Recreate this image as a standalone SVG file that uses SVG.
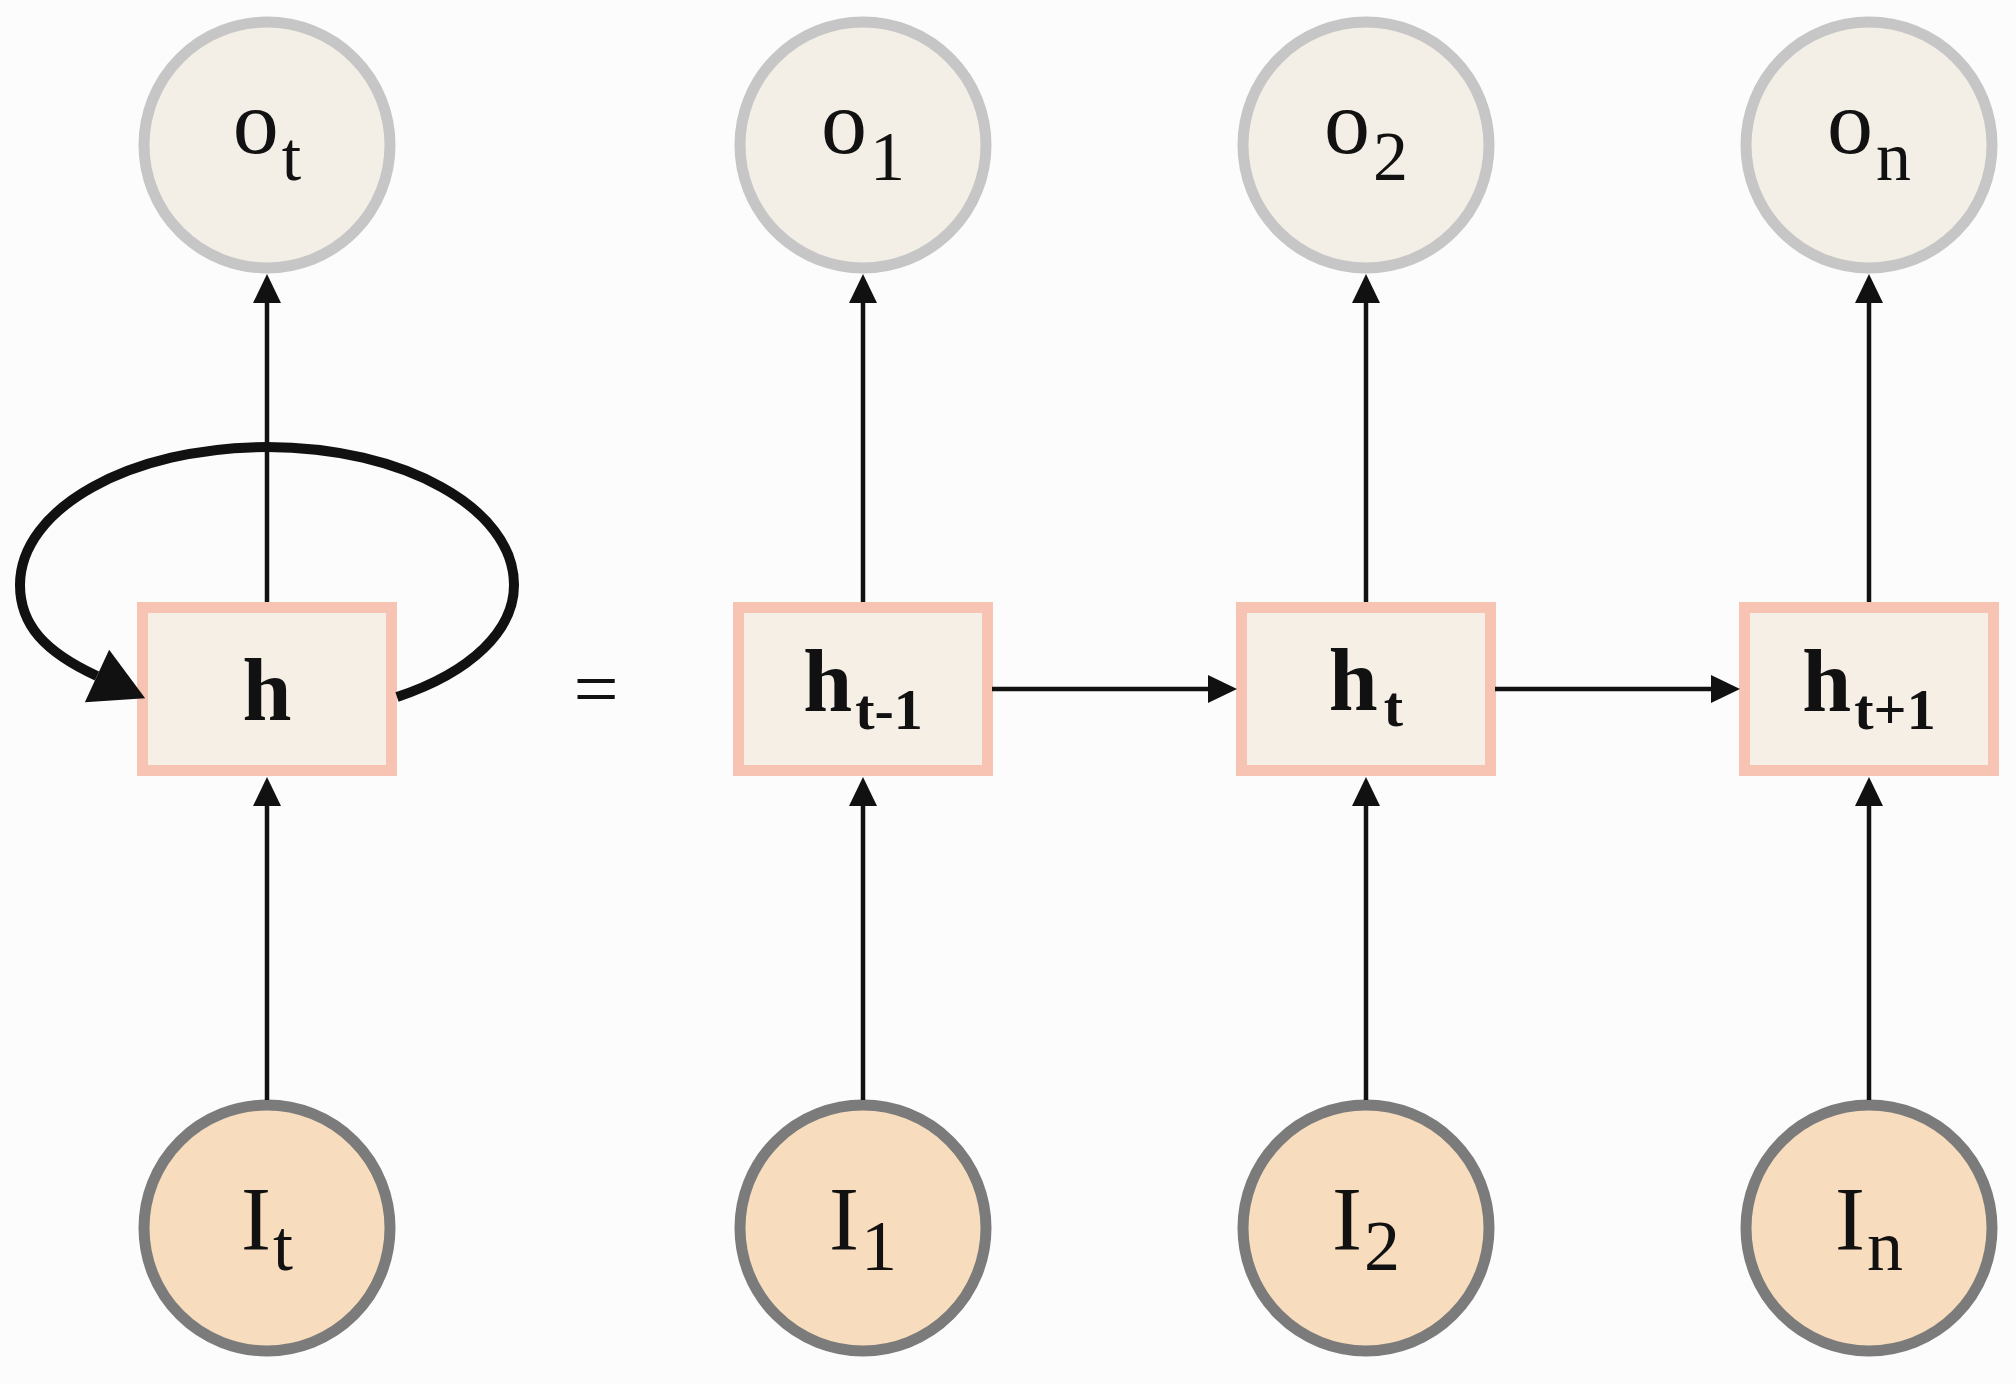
<svg xmlns="http://www.w3.org/2000/svg" width="2016" height="1384" viewBox="0 0 2016 1384">
  <style>
    .out { fill: #f3eee6; stroke: #c6c6c6; stroke-width: 11; }
    .inp { fill: #f7dcbd; stroke: #7b7b7b; stroke-width: 11; }
    .box { fill: #f5efe6; stroke: #f7c3b3; stroke-width: 11; }
    .lbl { font-family: "Liberation Serif", "Times New Roman", serif; fill: #111; text-anchor: middle; }
    .o { font-size: 92px; }
    .osub { font-size: 70px; }
    .i { font-size: 90px; }
    .isub { font-size: 72px; }
    .h { font-size: 88px; font-weight: bold; }
    .hsub { font-size: 58px; font-weight: bold; }
    .edge { fill: none; stroke: #111; stroke-width: 4.5; marker-end: url(#arr); }
    .loop { fill: none; stroke: #111; stroke-width: 10; marker-end: url(#bigarr); }
  </style>
  <defs>
    <marker id="arr" markerUnits="userSpaceOnUse" viewBox="0 0 29 28" markerWidth="29" markerHeight="28" refX="17" refY="14" orient="auto">
      <path d="M0,0 L29,14 L0,28 Z" fill="#111"/>
    </marker>
    <marker id="bigarr" markerUnits="userSpaceOnUse" viewBox="-5 -32 64 64" markerWidth="64" markerHeight="64" refX="0" refY="0" orient="auto">
      <path d="M0,-29 L53,0 L0,29 Z" fill="#111"/>
    </marker>
  </defs>
  <rect x="0" y="0" width="2016" height="1384" fill="#fcfcfc"/>

  <g id="o_t">
    <circle class="out" cx="267" cy="145" r="123"/>
    <text class="lbl" x="267" y="153"><tspan class="o">o</tspan><tspan class="osub" dx="3" dy="27">t</tspan></text>
  </g>
  <g id="o_1">
    <circle class="out" cx="863" cy="145" r="123"/>
    <text class="lbl" x="863" y="153"><tspan class="o">o</tspan><tspan class="osub" dx="3" dy="27">1</tspan></text>
  </g>
  <g id="o_2">
    <circle class="out" cx="1366" cy="145" r="123"/>
    <text class="lbl" x="1366" y="153"><tspan class="o">o</tspan><tspan class="osub" dx="3" dy="27">2</tspan></text>
  </g>
  <g id="o_n">
    <circle class="out" cx="1869" cy="145" r="123"/>
    <text class="lbl" x="1869" y="153"><tspan class="o">o</tspan><tspan class="osub" dx="3" dy="27">n</tspan></text>
  </g>

  <g id="h">
    <rect class="box" x="142.5" y="607.5" width="249" height="163"/>
    <text class="lbl h" x="267" y="720">h</text>
  </g>
  <g id="h_t-1">
    <rect class="box" x="738.5" y="607.5" width="249" height="163"/>
    <text class="lbl" x="863" y="711"><tspan class="h">h</tspan><tspan class="hsub" dx="3" dy="18">t-1</tspan></text>
  </g>
  <g id="h_t">
    <rect class="box" x="1241.5" y="607.5" width="249" height="163"/>
    <text class="lbl" x="1366" y="710"><tspan class="h">h</tspan><tspan class="hsub" dx="6" dy="16">t</tspan></text>
  </g>
  <g id="h_t+1">
    <rect class="box" x="1744.5" y="607.5" width="249" height="163"/>
    <text class="lbl" x="1869" y="711"><tspan class="h">h</tspan><tspan class="hsub" dx="3" dy="18">t+1</tspan></text>
  </g>

  <g id="equals">
    <text class="lbl" x="596" y="716" style="font-size:80px">=</text>
  </g>

  <g id="I_t">
    <circle class="inp" cx="267" cy="1228" r="123"/>
    <text class="lbl" x="267" y="1250"><tspan class="i">I</tspan><tspan class="isub" dx="2" dy="20">t</tspan></text>
  </g>
  <g id="I_1">
    <circle class="inp" cx="863" cy="1228" r="123"/>
    <text class="lbl" x="863" y="1250"><tspan class="i">I</tspan><tspan class="isub" dx="2" dy="20">1</tspan></text>
  </g>
  <g id="I_2">
    <circle class="inp" cx="1366" cy="1228" r="123"/>
    <text class="lbl" x="1366" y="1250"><tspan class="i">I</tspan><tspan class="isub" dx="2" dy="20">2</tspan></text>
  </g>
  <g id="I_n">
    <circle class="inp" cx="1869" cy="1228" r="123"/>
    <text class="lbl" x="1869" y="1250"><tspan class="i">I</tspan><tspan class="isub" dx="2" dy="20">n</tspan></text>
  </g>

  <g id="connectors">
    <line class="edge" x1="267" y1="602" x2="267" y2="286"/>
    <line class="edge" x1="863" y1="602" x2="863" y2="286"/>
    <line class="edge" x1="1366" y1="602" x2="1366" y2="286"/>
    <line class="edge" x1="1869" y1="602" x2="1869" y2="286"/>
    <line class="edge" x1="267" y1="1100" x2="267" y2="789"/>
    <line class="edge" x1="863" y1="1100" x2="863" y2="789"/>
    <line class="edge" x1="1366" y1="1100" x2="1366" y2="789"/>
    <line class="edge" x1="1869" y1="1100" x2="1869" y2="789"/>
    <line class="edge" x1="992" y1="689" x2="1225" y2="689"/>
    <line class="edge" x1="1495" y1="689" x2="1728" y2="689"/>
    <path class="loop" d="M 397 697 C 472 672, 514 630, 514 585 C 514 508, 403 447, 267 447 C 131 447, 20 508, 20 585 C 20 625, 45 652, 97 676"/>
  </g>
</svg>
